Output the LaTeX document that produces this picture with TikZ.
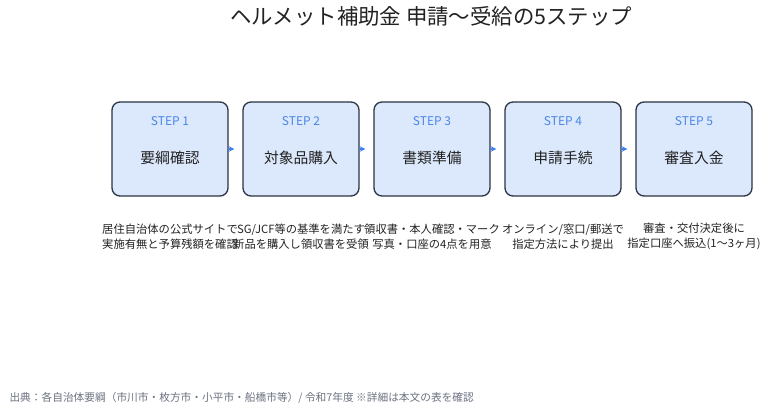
\documentclass[tikz,border=0pt]{standalone}
\usepackage{fontspec}
\setmainfont{Noto Sans CJK JP}
\usetikzlibrary{calc}
\definecolor{boxfill}{HTML}{DCE8FB}
\definecolor{boxline}{HTML}{2B3444}
\definecolor{stepblue}{HTML}{4A86E8}
\definecolor{arrowblue}{HTML}{3B82F6}
\definecolor{textdark}{HTML}{222222}
\definecolor{notegray}{HTML}{6B7280}
\tikzset{
  stepbox/.style={draw=boxline, fill=boxfill, line width=1.3pt, rounded corners=8pt,
    minimum width=116pt, minimum height=94pt},
  steplbl/.style={text=stepblue, font=\fontsize{12}{14}\selectfont},
  stepname/.style={text=textdark, font=\fontsize{14.8}{17}\selectfont},
  stepdesc/.style={text=textdark, align=center, font=\fontsize{11.3}{15}\selectfont},
  flow/.style={-stealth, arrowblue, line width=1.5pt, shorten >=8pt}
}
\begin{document}
\begin{tikzpicture}[x=1pt, y=1pt]
                \useasboundingbox (0,0) rectangle (768,411);
                \node[text=textdark, font=\fontsize{21.4}{24}\selectfont] (title) at (431,395) {ヘルメット補助金 申請〜受給の5ステップ};
                \foreach \i/\x/\name in {1/170/要綱確認, 2/301/対象品購入, 3/432/書類準備, 4/563/申請手続, 5/694/審査入金}
                {
                    \node[stepbox] (s\i) at (\x,262) {};
                    \node[steplbl] (t\i) at ($(s\i.north)+(0,-20)$) {STEP \i};
                    \node[stepname] (n\i) at ($(s\i.center)+(0,-9)$) {\name};
                }
                \foreach \a/\b in {1/2, 2/3, 3/4, 4/5}
                    \draw[flow] (s\a) -- (s\b);
                \node[stepdesc] (d1) at (170,174.5) {居住自治体の公式サイトで\\実施有無と予算残額を確認};
                \node[stepdesc] (d2) at (301,174.5) {SG/JCF等の基準を満たす\\新品を購入し領収書を受領};
                \node[stepdesc] (d3) at (432,174.5) {領収書・本人確認・マーク\\写真・口座の4点を用意};
                \node[stepdesc] (d4) at (563,174.5) {オンライン/窓口/郵送で\\指定方法により提出};
                \node[stepdesc] (d5) at (694,174.5) {審査・交付決定後に\\指定口座へ振込(1〜3ヶ月)};
                \node[anchor=west, text=notegray, font=\fontsize{10.7}{12}\selectfont] (src) at (6,13) {出典：各自治体要綱（市川市・枚方市・小平市・船橋市等）/ 令和7年度 ※詳細は本文の表を確認};
            \end{tikzpicture}
\end{document}
